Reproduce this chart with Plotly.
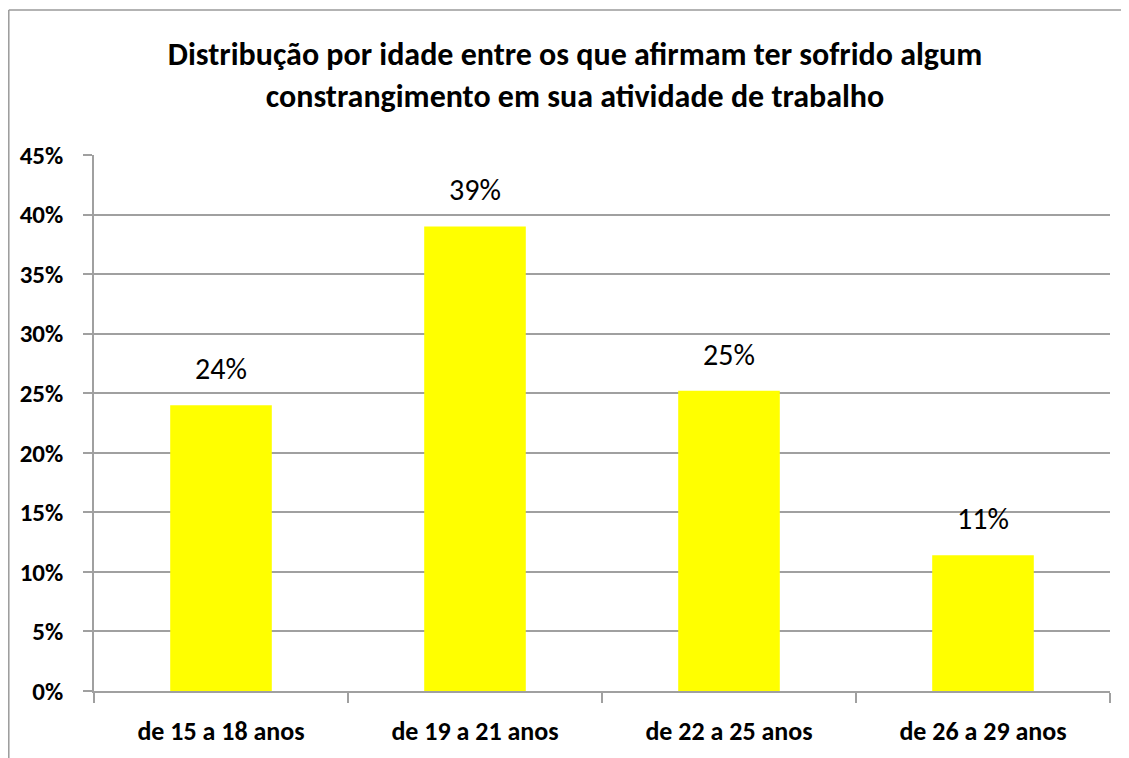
import plotly.graph_objects as go

categories = ["de 15 a 18 anos", "de 19 a 21 anos", "de 22 a 25 anos", "de 26 a 29 anos"]
values = [0.24, 0.39, 0.252, 0.114]
labels = ["24%", "39%", "25%", "11%"]
y_ticks = [0, 0.05, 0.10, 0.15, 0.20, 0.25, 0.30, 0.35, 0.40, 0.45]
y_tick_text = ["0%", "5%", "10%", "15%", "20%", "25%", "30%", "35%", "40%", "45%"]
title_text = "Distribução por idade entre os que afirmam ter sofrido algum<br>constrangimento em sua atividade de trabalho"

FONT = "Carlito, Lato, 'Liberation Sans Narrow', sans-serif"

W, H = 1121, 750
L, R, T, B = 86, 19, 147, 67

fig = go.Figure()
fig.add_trace(go.Bar(
    x=categories, y=values, width=0.4,
    marker=dict(color="#FFFF00", line=dict(width=0)),
    hoverinfo="skip",
))

for c, v, t in zip(categories, values, labels):
    fig.add_annotation(x=c, y=v, text=t, showarrow=False, yanchor="bottom",
                       yshift=16, font=dict(family=FONT, size=30, color="#000"))

axis_col = "#A0A0A0"
fig.update_layout(
    width=W, height=H,
    paper_bgcolor="white", plot_bgcolor="white",
    margin=dict(l=L, r=R, t=T, b=B, autoexpand=False),
    showlegend=False,
    bargap=0.6,
    title=dict(text=title_text, x=567 / W, xanchor="center", y=1 - 57 / H, yanchor="middle",
               font=dict(family=FONT, size=32, color="#000", weight="bold")),
    xaxis=dict(type="category", showgrid=False, showline=True, linecolor=axis_col, linewidth=1.5,
               ticks="outside", tickson="boundaries", ticklen=10, tickcolor=axis_col, tickwidth=1.5,
               ticklabelstandoff=16,
               tickfont=dict(family=FONT, size=26, color="#000", weight="bold"),
               range=[-0.5, 3.5], fixedrange=True),
    yaxis=dict(range=[0, 0.45], tickvals=y_ticks, ticktext=y_tick_text,
               showgrid=True, gridcolor=axis_col, gridwidth=1.5,
               showline=True, linecolor=axis_col, linewidth=1.5,
               ticks="outside", ticklen=9, tickcolor=axis_col, tickwidth=1.5,
               ticklabelstandoff=15,
               tickfont=dict(family=FONT, size=25, color="#000", weight="bold"),
               zeroline=False, fixedrange=True),
)

# chart border (left and top visible)
pw = W - L - R
ph = H - T - B
bx = (0.8 - L) / pw
by = (H - B - 2) / ph
fig.add_shape(type="line", xref="paper", yref="paper", x0=bx, x1=bx, y0=-0.3, y1=by,
              line=dict(color="#9A9A9A", width=1.5))
fig.add_shape(type="line", xref="paper", yref="paper", x0=bx, x1=1.05, y0=by, y1=by,
              line=dict(color="#9A9A9A", width=1.5))

fig.write_html("out.html")
